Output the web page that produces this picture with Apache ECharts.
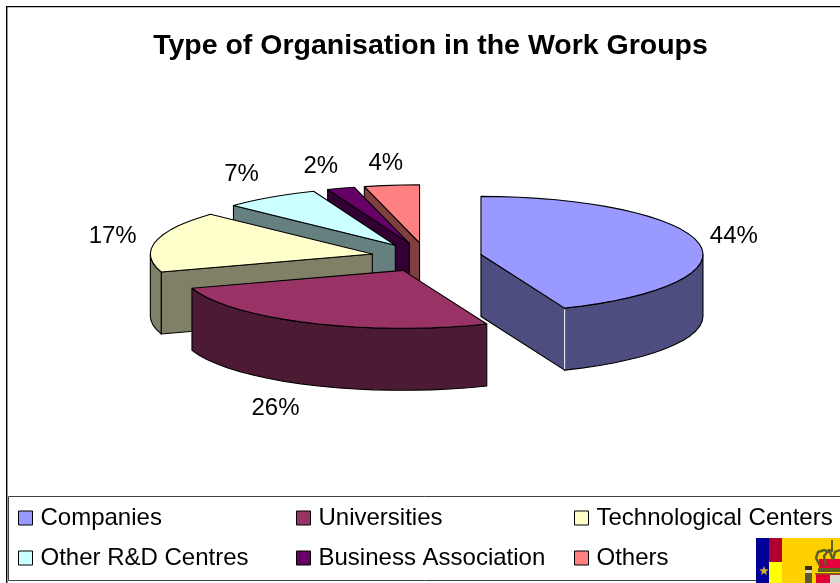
<!DOCTYPE html>
<html><head><meta charset="utf-8">
<style>html,body{margin:0;padding:0;background:#fff}#c{width:840px;height:583px}</style>
<script src="https://cdn.jsdelivr.net/npm/echarts@6/dist/echarts.min.js"></script>
</head><body><div id="c"></div>
<script>
// ---- data ----
const categories = ['Companies','Universities','Technological Centers','Other R&D Centres','Business Association','Others'];
const shares = [43.85,26.15,17,7,2,4];
// ---- styles ----
const topColors = ['#9999FF','#993366','#FFFFCC','#CCFFFF','#660066','#FF8080'];
const sideColors = ['#4D4D80','#4D1A33','#808066','#668080','#330033','#804040'];
// ---- layout ----
const pie = {cx:426.5, cy:257.2, rx:222, ry:58, depth:62, explode:0.25, step:5};
const labelNudge = [[35,-7],[-34,23],[-43,-5],[-29,-23],[-20,-22],[-6,-22]];
const legendSlots = [[18,506],[296,506],[574,506],[18,546],[296,546],[574,546]];
const font = '"Liberation Sans", Arial, sans-serif';

const total = shares.reduce((a,b)=>a+b,0);
const rad = d => d*Math.PI/180;
function sliceAngles(i){
  let s = 0; for(let k=0;k<i;k++) s += shares[k];
  return [s/total*360, (s+shares[i])/total*360];
}
function point(c,deg,dz){
  return [c[0]+pie.rx*Math.sin(rad(deg)), c[1]-pie.ry*Math.cos(rad(deg))+(dz||0)];
}
function arc(c,a,b,dz){
  const pts=[]; const n=Math.max(1,Math.ceil((b-a)/pie.step));
  for(let k=0;k<=n;k++) pts.push(point(c,a+(b-a)*k/n,dz));
  return pts;
}
function makeRender(i){
  return function(params, api){
    const [a,b] = sliceAngles(i);
    const mid=(a+b)/2, e=pie.explode;
    const c=[pie.cx+e*pie.rx*Math.sin(rad(mid)), pie.cy-e*pie.ry*Math.cos(rad(mid))];
    const bottom=[c[0],c[1]+pie.depth];
    const kids=[];
    const st={stroke:'#000',lineWidth:1.1,lineJoin:'round'};
    const poly=(points,fill)=>kids.push({type:'polygon',shape:{points},style:Object.assign({fill},st)});
    // visible cut faces
    if(Math.sin(rad(a))<-1e-6){const p=point(c,a);poly([c,p,[p[0],p[1]+pie.depth],bottom],sideColors[i]);}
    if(Math.sin(rad(b))>1e-6){const p=point(c,b);poly([c,p,[p[0],p[1]+pie.depth],bottom],sideColors[i]);}
    // outer wall, front half only
    const wa=Math.max(a,90), wb=Math.min(b,270);
    if(wb>wa){poly(arc(c,wa,wb,0).concat(arc(c,wa,wb,pie.depth).reverse()),sideColors[i]);}
    // top face
    poly([c].concat(arc(c,a,b,0)),topColors[i]);
    // pale seam where the cut face meets the wall
    if(Math.sin(rad(b))>1e-6 && b>90 && b<270){
      const p=point(c,b);
      kids.push({type:'line',shape:{x1:p[0],y1:p[1]+1,x2:p[0],y2:p[1]+pie.depth-1},style:{stroke:'#e8e8f0',lineWidth:1.2}});
    }
    // label
    const front = mid>90 && mid<270 ? pie.depth : 0;
    const lp=point(c,mid,front);
    kids.push({type:'text',style:{text:Math.round(api.value(0))+'%',x:lp[0]+labelNudge[i][0],y:lp[1]+labelNudge[i][1],
      textAlign:'center',textVerticalAlign:'middle',fill:'#000',font:'24px '+font}});
    return {type:'group',children:kids};
  };
}
// back to front: last category is painted first
const series = categories.map((name,i)=>({
  type:'custom', name, coordinateSystem:'none', z:10+(categories.length-i),
  itemStyle:{color:topColors[i]},
  data:[[shares[i]]], renderItem:makeRender(i), animation:false, silent:true
}));
const legends = categories.map((name,i)=>({
  data:[name], left:legendSlots[i][0], top:legendSlots[i][1], orient:'horizontal',
  icon:'rect', itemWidth:14, itemHeight:14, selectedMode:false, padding:0,
  itemStyle:{borderColor:'#000',borderWidth:1},
  textStyle:{fontFamily:font,fontSize:24,color:'#000',padding:[0,0,0,3]}
}));
// emblem in the corner
function star(cx,cy,R){const p=[];for(let k=0;k<10;k++){const r=k%2?R*0.42:R,t=rad(k*36-90);p.push([cx+r*Math.cos(t),cy+r*Math.sin(t)]);}return p;}
const R=(x,y,w,h,fill,z)=>({type:'rect',shape:{x,y,width:w,height:h},style:{fill},z:z||1});
const arch=(pts)=>({type:'polyline',z:52,shape:{points:pts},style:{stroke:'#5A6020',lineWidth:2.4,fill:'none'}});
const graphics=[
  R(6,6,834,1.3,'#000'), R(6,6,1.4,577,'#000'),
  {type:'rect',shape:{x:8.5,y:496.5,width:840,height:84},style:{fill:'#fff',stroke:'#404040',lineWidth:1},z:0},
  R(756,538,13,45,'#000099',50), R(769,538,13,24,'#B00030',50), R(769,562,13,21,'#FFFF00',50), R(782,538,58,45,'#FFD000',50),
  {type:'polygon',shape:{points:star(764,571,5)},style:{fill:'#D8B030'},z:51},
  R(805,573,7,10,'#5A5A30',51), R(806,570,5,3,'#E8E0B0',51), R(805,566,7,4,'#303020',51),
  R(819,559,21,10,'#E8003C',51),
  arch([[820,566],[816,558],[818,552],[824,550],[830,552],[833,560]]),
  arch([[833,560],[835,552],[840,550]]),
  arch([[826,566],[824,556],[829,550],[833,551]]),
  R(831,540,2,10,'#5A6020',52),
  R(818,568,22,4,'#5A6020',52),
  R(816,574,24,9,'#E00030',52), R(830,575,10,8,'#D8D8D0',53), R(815,573,25,1.5,'#806020',53)
];
const chart=echarts.init(document.getElementById('c'),null,{renderer:'canvas'});
chart.setOption({
  animation:false, backgroundColor:'#fff',
  title:{text:'Type of Organisation in the Work Groups',left:425.5,top:27,textAlign:'center',
    textStyle:{fontFamily:font,fontWeight:'bold',fontSize:28.5,color:'#000'}},
  legend:legends, series, graphic:graphics
});
</script></body></html>
